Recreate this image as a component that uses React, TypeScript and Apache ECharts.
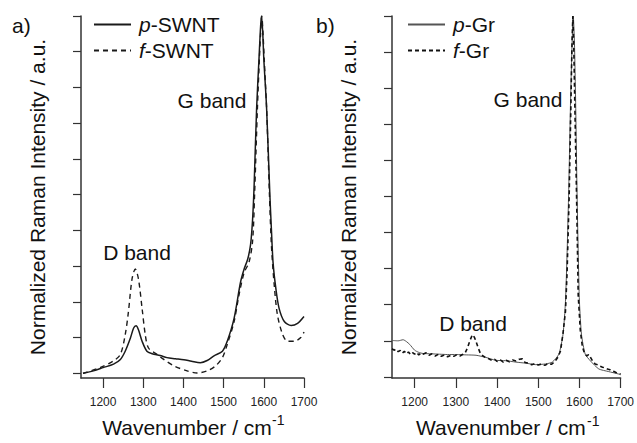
import React, { useEffect, useRef } from "react";
import * as echarts from "echarts";

const FONT = '"Liberation Sans", Arial, Helvetica, sans-serif';

// x-axis tick labels (both panels)
const xTicks = [1200, 1300, 1400, 1500, 1600, 1700];
const yTicks = [0, 1, 2, 3, 4, 5, 6, 7, 8, 9, 10];

// Panel a) p-SWNT (solid)
const pSwntX = [1150, 1176, 1200, 1226, 1243, 1255, 1268, 1276, 1282, 1288, 1297, 1309, 1322, 1342, 1359, 1380, 1401, 1420, 1442, 1459, 1476, 1497, 1509, 1526, 1542, 1551, 1560, 1567, 1572, 1576, 1582, 1588, 1591, 1594, 1597, 1600, 1607, 1615, 1619, 1623, 1630, 1638, 1651, 1668, 1684, 1700];
const pSwntY = [0.0, 0.07, 0.16, 0.26, 0.39, 0.62, 0.99, 1.27, 1.33, 1.22, 0.9, 0.62, 0.55, 0.5, 0.44, 0.41, 0.38, 0.34, 0.3, 0.36, 0.49, 0.62, 0.9, 1.54, 2.55, 2.92, 3.2, 3.6, 4.3, 5.3, 7.4, 8.8, 9.5, 10.0, 9.6, 8.8, 7.4, 5.0, 4.0, 3.1, 2.37, 1.82, 1.45, 1.34, 1.4, 1.59];

// Panel a) f-SWNT (dashed)
const fSwntX = [1150, 1192, 1226, 1243, 1255, 1263, 1272, 1280, 1288, 1297, 1305, 1313, 1334, 1351, 1376, 1409, 1434, 1459, 1480, 1497, 1509, 1526, 1538, 1551, 1563, 1572, 1577, 1584, 1589, 1592, 1595, 1598, 1601, 1607, 1614, 1619, 1626, 1634, 1647, 1659, 1676, 1692, 1700];
const fSwntY = [0.0, 0.16, 0.35, 0.53, 1.08, 1.72, 2.64, 2.92, 2.64, 1.82, 1.08, 0.71, 0.53, 0.39, 0.21, 0.07, 0.01, 0.07, 0.21, 0.44, 0.81, 1.45, 2.18, 2.82, 3.1, 3.7, 5.0, 7.4, 8.8, 9.5, 10.0, 9.5, 8.8, 7.4, 5.0, 3.56, 2.46, 1.63, 1.08, 0.9, 0.9, 1.0, 1.16];

// Panel b) p-Gr (solid)
const pGrX = [1145, 1160, 1172, 1180, 1188, 1200, 1210, 1220, 1240, 1260, 1280, 1301, 1325, 1349, 1373, 1397, 1421, 1446, 1470, 1494, 1518, 1534, 1550, 1560, 1566, 1570, 1574, 1578, 1582, 1585, 1588, 1591, 1594, 1597, 1600, 1605, 1614, 1627, 1647, 1670, 1695, 1700];
const pGrY = [1.01, 1.0, 1.03, 0.98, 0.9, 0.74, 0.68, 0.65, 0.64, 0.63, 0.62, 0.62, 0.61, 0.6, 0.54, 0.46, 0.45, 0.41, 0.38, 0.34, 0.36, 0.41, 0.63, 1.17, 2.08, 3.44, 5.2, 7.44, 9.2, 10.0, 9.2, 7.44, 5.2, 3.44, 2.08, 1.17, 0.63, 0.44, 0.22, 0.15, 0.08, 0.06];

// Panel b) f-Gr (dashed)
const fGrX = [1145, 1150, 1155, 1160, 1165, 1170, 1175, 1180, 1185, 1190, 1195, 1200, 1205, 1210, 1215, 1220, 1228, 1235, 1242, 1250, 1258, 1265, 1272, 1280, 1288, 1295, 1302, 1310, 1316, 1322, 1328, 1334, 1340, 1345, 1350, 1355, 1360, 1366, 1373, 1380, 1387, 1394, 1400, 1408, 1415, 1422, 1430, 1438, 1446, 1454, 1461, 1468, 1476, 1484, 1492, 1500, 1508, 1516, 1524, 1532, 1540, 1548, 1554, 1560, 1566, 1570, 1575, 1579, 1582, 1584, 1586, 1589, 1593, 1597, 1602, 1607, 1612, 1618, 1622, 1626, 1632, 1638, 1644, 1650, 1656, 1662, 1668, 1674, 1680, 1686, 1692, 1700];
const fGrY = [0.78, 0.74, 0.77, 0.7, 0.73, 0.66, 0.71, 0.64, 0.69, 0.62, 0.67, 0.63, 0.68, 0.61, 0.66, 0.63, 0.67, 0.6, 0.64, 0.58, 0.63, 0.57, 0.61, 0.56, 0.6, 0.57, 0.61, 0.58, 0.62, 0.65, 0.8, 1.0, 1.17, 1.1, 0.95, 0.78, 0.64, 0.58, 0.53, 0.5, 0.46, 0.49, 0.43, 0.47, 0.41, 0.46, 0.42, 0.47, 0.44, 0.49, 0.5, 0.4, 0.38, 0.34, 0.37, 0.33, 0.36, 0.32, 0.37, 0.35, 0.42, 0.55, 0.72, 1.2, 1.81, 2.9, 5.0, 7.4, 9.3, 10.0, 9.3, 7.4, 5.0, 2.26, 1.3, 0.85, 0.66, 0.58, 0.62, 0.56, 0.44, 0.36, 0.34, 0.3, 0.27, 0.25, 0.22, 0.2, 0.16, 0.14, 0.1, 0.08];

const pairs = (xs: number[], ys: number[]) => xs.map((x, i) => [x, ys[i]]);

const axisColor = "#333";

function xAxisCfg(gridIndex: number) {
  return {
    type: "value",
    gridIndex,
    min: 1145,
    max: 1700,
    name: "Wavenumber / cm",
    nameLocation: "middle",
    nameGap: 39,
    nameTextStyle: { fontFamily: FONT, fontSize: 21, color: "#111", padding: [0, 11, 0, 0] },
    axisLine: { show: true, onZero: false, lineStyle: { color: axisColor, width: 1.5 } },
    axisTick: { show: true, length: 10, customValues: xTicks, lineStyle: { color: axisColor, width: 1.2 } },
    axisLabel: {
      show: true,
      margin: 18,
      customValues: xTicks,
      formatter: (v: number) => String(v),
      fontFamily: FONT,
      fontSize: 12,
      color: "#222",
    },
    splitLine: { show: false },
  };
}

function yAxisCfg(gridIndex: number, min: number) {
  return {
    type: "value",
    gridIndex,
    min,
    max: 10,
    name: "Normalized Raman Intensity / a.u.",
    nameLocation: "middle",
    nameGap: 33,
    nameTextStyle: { fontFamily: FONT, fontSize: 21, color: "#111" },
    axisLine: { show: true, onZero: false, lineStyle: { color: axisColor, width: 1.5 } },
    axisTick: { show: true, length: 8, customValues: yTicks, lineStyle: { color: axisColor, width: 1.2 } },
    axisLabel: { show: false },
    splitLine: { show: false },
  };
}

const legendFmt = (name: string) => `{i|${name[0]}}{n|${name.slice(1)}}`;
const legendText = {
  fontFamily: FONT,
  fontSize: 21,
  lineHeight: 21,
  color: "#111",
  padding: [0, 0, 0, 3],
  rich: {
    i: { fontFamily: FONT, fontSize: 21, lineHeight: 21, fontStyle: "italic", color: "#111" },
    n: { fontFamily: FONT, fontSize: 21, lineHeight: 21, color: "#111" },
  },
};

function legendCfg(names: string[], left: number) {
  return {
    data: names,
    orient: "vertical",
    left,
    top: 14,
    padding: 0,
    itemWidth: 37,
    itemHeight: 14,
    itemGap: 5,
    formatter: legendFmt,
    textStyle: legendText,
    itemStyle: { opacity: 0, borderWidth: 0 },
    selectedMode: false,
  };
}

function txt(x: number, y: number, text: string, size: number, align = "center") {
  return {
    type: "text",
    x,
    y,
    style: { text, fontFamily: FONT, fontSize: size, fill: "#111", align, verticalAlign: "middle" },
  };
}

export default function App() {
  const ref = useRef<HTMLDivElement>(null);
  useEffect(() => {
    document.body.style.margin = "0";
    const chart = echarts.init(ref.current!, null, { renderer: "svg" });
    chart.setOption({
      animation: false,
      backgroundColor: "#fff",
      grid: [
        { left: 81, top: 16, width: 223, bottom: 59 },
        { left: 392, top: 16, width: 230, bottom: 59 },
      ],
      xAxis: [xAxisCfg(0), xAxisCfg(1)],
      yAxis: [yAxisCfg(0, -0.13), yAxisCfg(1, -0.03)],
      legend: [legendCfg(["p-SWNT", "f-SWNT"], 93), legendCfg(["p-Gr", "f-Gr"], 407)],
      series: [
        {
          name: "p-SWNT",
          type: "line",
          xAxisIndex: 0,
          yAxisIndex: 0,
          data: pairs(pSwntX, pSwntY),
          smooth: 0.3,
          symbol: "none",
          lineStyle: { color: "#1a1a1a", width: 1.5 },
          itemStyle: { color: "#1a1a1a" },
        },
        {
          name: "f-SWNT",
          type: "line",
          xAxisIndex: 0,
          yAxisIndex: 0,
          data: pairs(fSwntX, fSwntY),
          smooth: 0.3,
          symbol: "none",
          lineStyle: { color: "#1a1a1a", width: 1.4, type: [5, 4] },
          itemStyle: { color: "#1a1a1a" },
        },
        {
          name: "p-Gr",
          type: "line",
          xAxisIndex: 1,
          yAxisIndex: 1,
          data: pairs(pGrX, pGrY),
          smooth: 0.2,
          symbol: "none",
          lineStyle: { color: "#555", width: 1 },
          itemStyle: { color: "#555" },
        },
        {
          name: "f-Gr",
          type: "line",
          xAxisIndex: 1,
          yAxisIndex: 1,
          data: pairs(fGrX, fGrY),
          symbol: "none",
          lineStyle: { color: "#111", width: 1.6, type: [4, 3] },
          itemStyle: { color: "#111" },
        },
      ],
      graphic: [
        txt(12, 25, "a)", 21, "left"),
        txt(316, 25, "b)", 21, "left"),
        txt(212, 100, "G band", 21),
        txt(137, 252, "D band", 21),
        txt(528, 99, "G band", 21),
        txt(473, 323, "D band", 21),
        txt(272, 420, "-1", 14, "left"),
        txt(587, 421, "-1", 14, "left"),
      ],
    });
    return () => chart.dispose();
  }, []);
  return <div ref={ref} style={{ position: "absolute", left: 0, top: 0, width: 637, height: 443 }} />;
}
